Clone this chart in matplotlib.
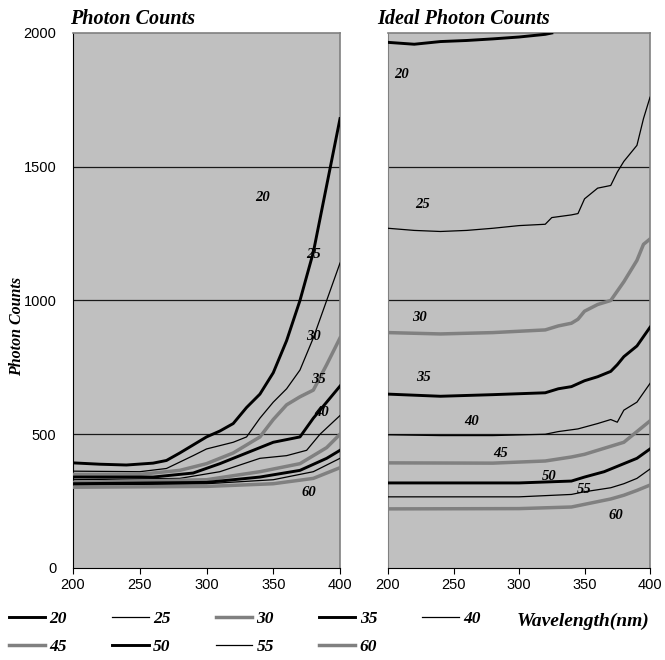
import numpy as np
import matplotlib.pyplot as plt

# measured spectra (left) and ideal spectra (right), one entry per angle
labels = ["20", "25", "30", "35", "40", "45", "50", "55", "60"]

meas_wl = {
    "20": [200, 220, 240, 260, 270, 280, 290, 300, 310, 320, 330, 340, 350, 360, 370, 380, 390, 400],
    "25": [200, 250, 270, 290, 300, 320, 330, 340, 350, 360, 370, 380, 390, 400],
    "30": [200, 250, 280, 300, 320, 340, 350, 360, 370, 380, 390, 400],
    "35": [200, 260, 290, 310, 330, 350, 370, 380, 390, 400],
    "40": [200, 280, 310, 340, 360, 375, 385, 400],
    "45": [200, 300, 340, 370, 390, 400],
    "50": [200, 300, 340, 370, 390, 400],
    "55": [200, 300, 350, 380, 400],
    "60": [200, 300, 350, 380, 400],
}
meas_val = {
    "20": [393, 388, 385, 392, 402, 430, 460, 490, 512, 540, 600, 650, 730, 850, 1000, 1180, 1430, 1680],
    "25": [362, 360, 372, 420, 445, 470, 490, 560, 620, 670, 740, 860, 1000, 1140],
    "30": [350, 350, 365, 390, 430, 490, 555, 610, 640, 665, 760, 860],
    "35": [340, 340, 355, 390, 430, 470, 490, 560, 620, 680],
    "40": [330, 335, 360, 410, 420, 440, 500, 570],
    "45": [320, 330, 360, 390, 450, 500],
    "50": [315, 320, 340, 365, 410, 440],
    "55": [310, 315, 330, 360, 410],
    "60": [302, 305, 315, 335, 375],
}

ideal_wl = {
    "20": [200, 220, 240, 260, 280, 300, 310, 320, 325],
    "25": [200, 220, 240, 260, 280, 300, 320, 325, 340, 345, 350, 360, 370, 375, 380, 390, 395, 400],
    "30": [200, 240, 280, 320, 330, 340, 345, 350, 360, 370, 380, 390, 395, 400],
    "35": [200, 240, 280, 320, 330, 340, 350, 360, 370, 375, 380, 390, 400],
    "40": [200, 240, 280, 320, 330, 345, 360, 370, 375, 380, 390, 400],
    "45": [200, 280, 320, 340, 350, 370, 380, 390, 400],
    "50": [200, 300, 340, 350, 365, 375, 390, 400],
    "55": [200, 300, 340, 350, 370, 380, 390, 400],
    "60": [200, 300, 340, 350, 370, 380, 390, 400],
}
ideal_val = {
    "20": [1965, 1958, 1968, 1972, 1978, 1985, 1990, 1995, 2000],
    "25": [1270, 1262, 1258, 1262, 1270, 1280, 1285, 1310, 1320, 1325, 1380, 1420, 1430, 1480, 1520, 1580, 1680, 1760],
    "30": [880, 875, 880, 890, 905, 915, 930, 960, 985, 1000, 1070, 1150, 1210, 1230],
    "35": [650, 642, 648, 655, 670, 678, 700, 715, 735, 760, 790, 830, 900],
    "40": [498, 495, 495, 500, 510, 520, 540, 555, 545, 590, 620, 690],
    "45": [393, 392, 400, 415, 425, 455, 470, 510, 550],
    "50": [318, 318, 325, 340, 360, 380, 410, 445],
    "55": [266, 266, 275, 285, 300, 315, 335, 370],
    "60": [221, 222, 228, 238, 258, 272, 290, 310],
}

# where the angle labels sit inside each panel (wavelength, counts)
meas_text = {"20": (342, 1386), "25": (380, 1172), "30": (380, 865),
             "35": (384, 704), "40": (386, 580), "60": (377, 281)}
ideal_text = {"20": (210, 1846), "25": (226, 1360), "30": (224, 936),
              "35": (227, 712), "40": (264, 547), "45": (286, 427),
              "50": (323, 341), "55": (350, 292), "60": (374, 195)}

styles = {
    "20": ("black", 2.1), "25": ("black", 0.9), "30": ("#808080", 2.5),
    "35": ("black", 2.1), "40": ("black", 0.9), "45": ("#808080", 2.5),
    "50": ("black", 2.1), "55": ("black", 0.9), "60": ("#808080", 2.5),
}

serif = "Liberation Serif"
sans = "Liberation Sans"
bi = dict(fontfamily=serif, fontweight="bold", style="italic")


def setupAxes(ax, show_y=True):
    ax.set_facecolor("#c0c0c0")
    ax.set(xlim=(200, 400), ylim=(0, 2000))
    ax.set_xticks(np.arange(200, 401, 50))
    ax.set_yticks(np.arange(0, 2001, 500))
    for y in [500, 1000, 1500]:
        ax.axhline(y, color="#1a1a1a", lw=0.9, zorder=1)
    for s in ["top", "right"]:
        ax.spines[s].set_color("#808080")
        ax.spines[s].set_linewidth(1.2)
    ax.spines["bottom"].set_color("black")
    ax.spines["left"].set_color("black" if show_y else "#808080")
    ax.tick_params(direction="out", length=4, width=0.8, labelsize=10.5,
                   pad=3)
    for t in ax.get_xticklabels() + ax.get_yticklabels():
        t.set_fontfamily(sans)
    if not show_y:
        ax.tick_params(axis="y", left=False, labelleft=False)
    else:
        ax.tick_params(axis="y", length=0, pad=12)


def plotPanel(ax, wl, val, txt):
    lines = {}
    for lab in labels:
        color, lw = styles[lab]
        ln, = ax.plot(wl[lab], val[lab], color=color, lw=lw, zorder=3)
        lines[lab] = ln
    for lab, (x, y) in txt.items():
        ax.text(x, y, lab, fontsize=10.5, ha="center", va="center",
                zorder=4, **bi)
    return lines


fig = plt.figure(figsize=(6.65, 6.6), dpi=100)
ax1 = fig.add_axes([0.1098, 0.1394, 0.4015, 0.8106])
ax2 = fig.add_axes([0.5835, 0.1394, 0.394, 0.8106])

setupAxes(ax1)
setupAxes(ax2, show_y=False)

lines = plotPanel(ax1, meas_wl, meas_val, meas_text)
plotPanel(ax2, ideal_wl, ideal_val, ideal_text)

fig.text(0.105, 0.9636, "Photon Counts", fontsize=14.5, va="baseline", **bi)
fig.text(0.567, 0.9636, "Ideal Photon Counts", fontsize=14.5,
         va="baseline", **bi)

fig.text(0.025, 0.505, "Photon Counts", rotation=90, fontsize=11.5,
         ha="center", va="center", **bi)
fig.text(0.976, 0.059, "Wavelength(nm)", fontsize=14, ha="right",
         va="center", **bi)

order = ["20", "45", "25", "50", "30", "55", "35", "60", "40"]
fig.legend([lines[k] for k in order], order, ncol=5, loc="upper left",
           bbox_to_anchor=(0.0, 0.088), frameon=False, borderpad=0,
           handlelength=2.1, handletextpad=0.25, columnspacing=2.6,
           labelspacing=0.7,
           prop={"family": serif, "weight": "bold", "style": "italic",
                 "size": 12.5})

fig.savefig("out.png", dpi=100)
